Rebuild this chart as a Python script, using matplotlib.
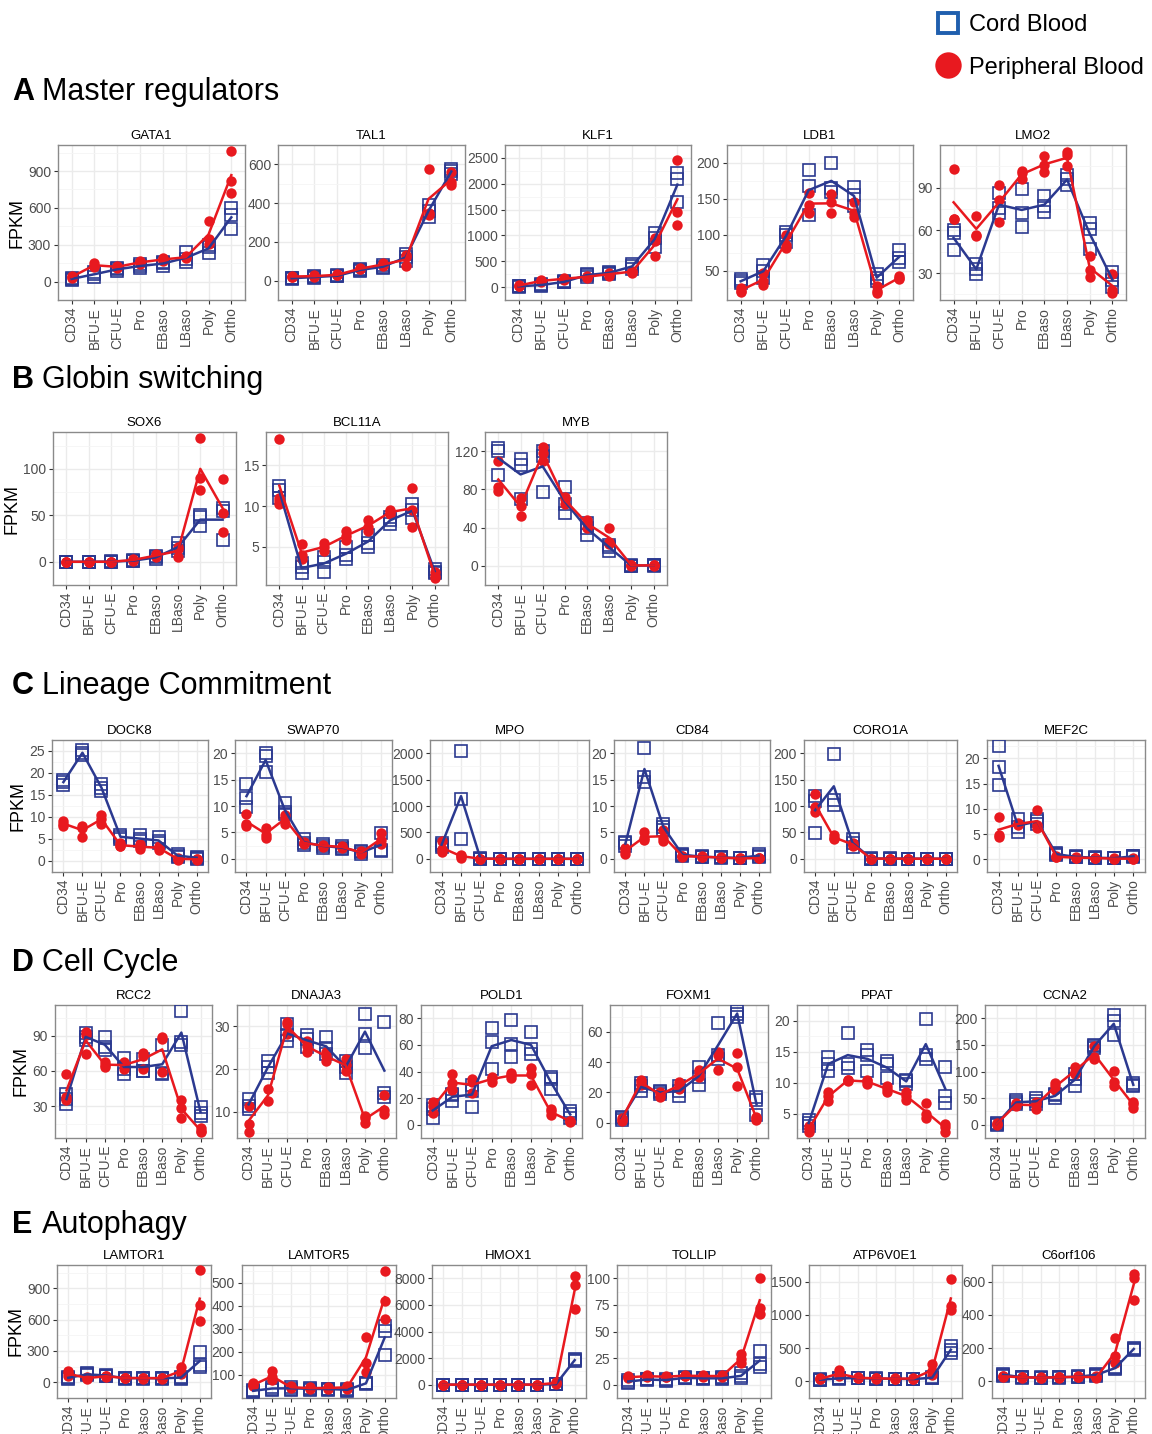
import numpy as np
import matplotlib.pyplot as plt
from matplotlib.lines import Line2D

plt.rcParams['font.family'] = ['Liberation Sans', 'DejaVu Sans']

STAGES = ["CD34", "BFU-E", "CFU-E", "Pro", "EBaso", "LBaso", "Poly", "Ortho"]

# --- A Master regulators ---
GATA1_CB = [[15, 20, 30], [40, 60, 80], [90, 100, 110], [110, 130, 140], [130, 150, 160], [160, 180, 240], [230, 280, 300], [430, 540, 600]]
GATA1_PB = [[30, 40, 45], [120, 130, 150], [110, 120, 130], [140, 160, 170], [170, 180, 190], [190, 200, 205], [310, 350, 490], [720, 820, 1060]]
TAL1_CB = [[10, 12, 15], [15, 18, 22], [22, 25, 28], [50, 55, 60], [65, 70, 80], [100, 120, 140], [330, 360, 390], [550, 565, 575]]
TAL1_PB = [[18, 20, 25], [20, 22, 28], [28, 30, 32], [58, 62, 65], [75, 85, 90], [75, 120, 130], [340, 350, 575], [495, 510, 560]]
KLF1_CB = [[10, 15, 20], [30, 40, 50], [90, 100, 110], [200, 230, 260], [250, 280, 300], [350, 400, 450], [780, 950, 1050], [1650, 2100, 2200]]
KLF1_PB = [[20, 30, 40], [100, 120, 140], [140, 160, 180], [180, 200, 220], [220, 250, 280], [280, 300, 320], [600, 900, 950], [1200, 1450, 2450]]
LDB1_CB = [[32, 35, 38], [40, 50, 57], [90, 100, 104], [128, 168, 190], [160, 165, 200], [140, 155, 167], [35, 40, 45], [62, 68, 78]]
LDB1_PB = [[20, 22, 25], [30, 35, 47], [82, 85, 100], [130, 142, 158], [130, 145, 156], [125, 130, 145], [18, 22, 28], [38, 40, 42]]
LMO2_CB = [[46, 58, 60], [29, 33, 36], [72, 76, 86], [62, 72, 89], [73, 77, 84], [92, 96, 99], [47, 61, 65], [20, 25, 31]]
LMO2_PB = [[68, 68, 103], [56, 57, 70], [66, 81, 92], [96, 100, 102], [101, 106, 112], [105, 113, 115], [27, 32, 42], [16, 18, 29]]

# --- B Globin switching ---
SOX6_CB = [[0, 0, 0], [0, 0, 0], [0, 0, 0.5], [0.5, 1, 2], [3, 5, 6], [12, 15, 20], [38, 48, 50], [23, 55, 58]]
SOX6_PB = [[0, 0, 0], [0, 0, 0], [0, 0, 0], [1, 2, 3], [5, 7, 8], [5, 14, 16], [77, 90, 133], [32, 52, 89]]
BCL11A_CB = [[11, 12, 12.5], [1.8, 2.5, 3], [1.9, 3.2, 3.8], [3.5, 4, 5], [5, 5.5, 6.5], [7.8, 8.3, 8.7], [8.5, 9.5, 10.3], [1.8, 2, 2.3]]
BCL11A_PB = [[10.2, 10.6, 11, 18.2], [3.5, 4, 5.4], [4.5, 5, 5.5], [5.8, 6.3, 7], [7, 7.5, 8.3], [9, 9.3, 9.5], [7.5, 9.5, 12.2], [1.2, 1.5, 2]]
MYB_CB = [[95, 120, 123], [70, 105, 112], [77, 115, 120], [55, 65, 82], [32, 40, 45], [16, 20, 22], [0, 0, 0.5], [0, 0.5, 1]]
MYB_PB = [[78, 83, 110], [52, 63, 71], [110, 118, 124], [65, 70, 72], [40, 45, 48], [23, 25, 40], [0, 0.5, 1], [0, 0.5, 1]]

# --- C Lineage commitment ---
DOCK8_CB = [[17.3, 18, 18.5], [24, 24.5, 25.3], [16, 16.5, 17.5], [5, 5.5, 6], [4.5, 5, 5.8], [4, 4.5, 5.5], [1, 1.2, 1.5], [0.5, 0.7, 1]]
DOCK8_PB = [[8, 8.5, 9], [5.5, 7.5, 8], [8.5, 9.5, 10.5], [3.3, 3.5, 4], [2.8, 3.2, 3.8], [2.5, 3, 3.5], [0.3, 0.5, 0.6], [0.3, 0.4, 0.5]]
SWAP70_CB = [[9.8, 11.6, 14.2], [16.5, 19.5, 20.1], [8.5, 8.8, 10.5], [2.6, 3, 3.8], [2, 2.5, 2.8], [1.8, 2, 2.5], [1, 1.2, 1.5], [1.4, 1.6, 4.8]]
SWAP70_PB = [[6.2, 6.5, 8.4], [4, 4.5, 5.8], [6.5, 7.8, 8.3], [2.8, 3, 3.2], [2.3, 2.5, 2.7], [2, 2.2, 2.5], [1, 1.2, 1.4], [2.8, 3.5, 4.8]]
MPO_CB = [[230, 270, 300], [380, 1130, 2050], [0, 5, 10], [0, 0, 0], [0, 0, 0], [0, 0, 0], [0, 0, 0], [0, 0, 0]]
MPO_PB = [[120, 180, 330], [20, 50, 80], [0, 2, 5], [0, 0, 0], [0, 0, 0], [0, 0, 0], [0, 0, 0], [0, 0, 0]]
CD84_CB = [[2.5, 3, 3.2], [14.5, 15.5, 21], [5.5, 6, 6.5], [0.5, 0.8, 1], [0.3, 0.4, 0.5], [0.2, 0.3, 0.3], [0.1, 0.2, 0.2], [0.3, 0.5, 1]]
CD84_PB = [[1, 1.5, 2], [3.5, 4, 5], [3.3, 4, 5.5], [0.3, 0.5, 0.6], [0.3, 0.4, 0.5], [0.2, 0.2, 0.3], [0, 0.1, 0.1], [0.1, 0.1, 0.2]]
CORO1A_CB = [[48, 110, 118], [102, 112, 198], [22, 30, 38], [0, 0.5, 1], [0, 0.5, 1], [0, 0.3, 0.5], [0, 0.2, 0.3], [0, 0.3, 0.5]]
CORO1A_PB = [[88, 98, 123], [37, 40, 45], [25, 27, 30], [0, 0.3, 0.5], [0, 0.3, 0.5], [0, 0.2, 0.3], [0, 0.1, 0.2], [0, 0.1, 0.2]]
MEF2C_CB = [[14.7, 18.3, 22.5], [5.5, 6.5, 8], [7, 7.5, 8], [0.8, 1, 1.3], [0.4, 0.5, 0.6], [0.3, 0.3, 0.4], [0.2, 0.2, 0.3], [0.5, 0.6, 0.7]]
MEF2C_PB = [[4.5, 4.8, 8.3], [6.8, 7, 7.2], [6.2, 6.8, 9.7], [0.4, 0.5, 0.6], [0.3, 0.3, 0.4], [0.2, 0.3, 0.3], [0.1, 0.1, 0.2], [0.1, 0.1, 0.2]]

# --- D Cell cycle ---
RCC2_CB = [[32, 36, 40], [86, 89, 92], [78, 80, 89], [57, 62, 71], [60, 60, 70], [57, 58, 82], [82, 85, 111], [22, 24, 29]]
RCC2_PB = [[35, 38, 57], [74, 91, 93], [63, 65, 68], [62, 65, 68], [62, 73, 75], [59, 87, 89], [20, 28, 35], [8, 9, 11]]
DNAJA3_CB = [[10.8, 11.5, 13], [19, 20.5, 22], [26.5, 28, 30.5], [25.3, 27, 28], [23.5, 25, 27.5], [19, 20.5, 22], [25, 28.3, 33], [13.5, 14.5, 31]]
DNAJA3_PB = [[5.3, 7.2, 11.3], [12.5, 15.3], [28.3, 30.5, 31], [24, 25.5, 26.5], [22, 23, 24], [19.5, 21, 22.3], [7.5, 8.5, 9], [9.5, 10.5, 14]]
POLD1_CB = [[5, 12, 15], [18, 22, 23], [13, 25, 30], [42, 62, 73], [51, 61, 79], [53, 57, 70], [27, 34, 36], [5, 8, 10]]
POLD1_PB = [[9, 14, 17], [26, 31, 38], [24, 32, 34], [32, 35, 36], [35, 37, 39], [30, 38, 43], [7, 10, 12], [2, 3, 3]]
FOXM1_CB = [[2, 3, 4], [21, 24, 26], [19, 20, 21], [18, 21, 24], [25, 30, 37], [42, 45, 66], [70, 72, 74], [5, 15, 17]]
FOXM1_PB = [[1, 2, 3], [25, 27, 28], [17, 19, 20], [22, 25, 27], [30, 32, 35], [35, 45, 47], [24, 37, 46], [2, 3, 4]]
PPAT_CB = [[3, 3.5, 4], [11.8, 13, 14.2], [12.3, 13, 18], [11.8, 14.5, 15.2], [10.8, 13, 13.5], [9.8, 10.3, 10.5], [13.8, 14.5, 20.3], [6.7, 7.8, 12.5]]
PPAT_PB = [[2, 2.5, 3], [7, 7.8, 8.5], [10.2, 10.4, 10.5], [9.8, 10.2, 10.5], [8.5, 9, 9.5], [7.2, 7.8, 8.5], [4.3, 5, 6.7], [2, 2.8, 3.3]]
CCNA2_CB = [[0, 2, 3], [38, 42, 46], [38, 44, 50], [50, 55, 58], [73, 85, 95], [145, 148, 150], [168, 195, 206], [72, 75, 78]]
CCNA2_PB = [[0, 2, 3], [35, 38, 40], [30, 38, 42], [65, 72, 78], [95, 100, 108], [123, 127, 148], [72, 80, 101], [32, 38, 42]]

# --- E Autophagy ---
LAMTOR1_CB = [[35, 45, 50], [70, 75, 85], [60, 65, 70], [35, 40, 45], [35, 40, 45], [35, 38, 42], [35, 45, 55], [150, 170, 290]]
LAMTOR1_PB = [[60, 85, 105], [30, 40, 50], [50, 60, 65], [38, 40, 45], [35, 40, 45], [35, 40, 45], [80, 100, 145], [590, 740, 1070]]
LAMTOR5_CB = [[25, 30, 35], [35, 40, 45], [35, 40, 48], [35, 38, 42], [35, 38, 40], [30, 35, 38], [60, 62, 65], [185, 290, 310]]
LAMTOR5_PB = [[50, 55, 62], [75, 90, 115], [42, 45, 50], [38, 42, 45], [40, 42, 45], [40, 45, 50], [110, 150, 265], [340, 420, 550]]
HMOX1_CB = [[0, 5, 10], [0, 5, 10], [0, 5, 10], [0, 5, 10], [0, 5, 10], [0, 5, 10], [20, 40, 60], [1750, 1850, 1950]]
HMOX1_PB = [[0, 5, 10], [0, 5, 10], [0, 5, 10], [0, 5, 10], [0, 5, 10], [0, 5, 10], [80, 120, 200], [5700, 7500, 8200]]
TOLLIP_CB = [[2, 3, 4], [4, 5, 5.5], [3.5, 4.5, 5], [6, 6.5, 7], [5.5, 6, 6.5], [5, 6, 7], [6, 8, 11], [17, 19, 32]]
TOLLIP_PB = [[6, 7, 8], [7, 8, 9], [7, 7.5, 8], [8, 8.5, 9], [7.5, 8, 9], [7.5, 8, 9], [20, 24, 29], [66, 72, 100]]
ATP6V0E1_CB = [[20, 25, 30], [35, 45, 55], [45, 50, 55], [40, 42, 45], [35, 40, 42], [30, 35, 38], [50, 55, 60], [430, 470, 530]]
ATP6V0E1_PB = [[30, 40, 45], [80, 100, 170], [50, 55, 60], [40, 45, 50], [35, 40, 45], [35, 40, 55], [100, 150, 260], [1070, 1130, 1540]]
C6ORF106_CB = [[35, 40, 45], [22, 25, 28], [20, 23, 25], [22, 25, 28], [25, 28, 30], [35, 40, 45], [75, 80, 85], [190, 195, 200]]
C6ORF106_PB = [[28, 30, 33], [22, 25, 27], [20, 22, 25], [22, 25, 28], [25, 28, 30], [20, 25, 30], [110, 150, 260], [490, 620, 645]]

W, H = 1152, 1434
CB_COL = "#2b3990"
PB_COL = "#e8191f"

# (gene, cord, peripheral, y ticks, box left px, box right px); row: letter, title, title y, box top, box bottom
ROWS = [
    ("A", "Master regulators", 92, 145, 300, [
        ("GATA1", GATA1_CB, GATA1_PB, [0, 300, 600, 900], 58, 245),
        ("TAL1", TAL1_CB, TAL1_PB, [0, 200, 400, 600], 278, 465),
        ("KLF1", KLF1_CB, KLF1_PB, [0, 500, 1000, 1500, 2000, 2500], 505, 691),
        ("LDB1", LDB1_CB, LDB1_PB, [50, 100, 150, 200], 727, 913),
        ("LMO2", LMO2_CB, LMO2_PB, [30, 60, 90], 940, 1126),
    ]),
    ("B", "Globin switching", 380, 432, 585, [
        ("SOX6", SOX6_CB, SOX6_PB, [0, 50, 100], 53, 236),
        ("BCL11A", BCL11A_CB, BCL11A_PB, [5, 10, 15], 266, 448),
        ("MYB", MYB_CB, MYB_PB, [0, 40, 80, 120], 485, 667),
    ]),
    ("C", "Lineage Commitment", 686, 740, 872, [
        ("DOCK8", DOCK8_CB, DOCK8_PB, [0, 5, 10, 15, 20, 25], 52, 208),
        ("SWAP70", SWAP70_CB, SWAP70_PB, [0, 5, 10, 15, 20], 235, 392),
        ("MPO", MPO_CB, MPO_PB, [0, 500, 1000, 1500, 2000], 430, 589),
        ("CD84", CD84_CB, CD84_PB, [0, 5, 10, 15, 20], 614, 770),
        ("CORO1A", CORO1A_CB, CORO1A_PB, [0, 50, 100, 150, 200], 804, 957),
        ("MEF2C", MEF2C_CB, MEF2C_PB, [0, 5, 10, 15, 20], 987, 1145),
    ]),
    ("D", "Cell Cycle", 963, 1005, 1138, [
        ("RCC2", RCC2_CB, RCC2_PB, [30, 60, 90], 55, 212),
        ("DNAJA3", DNAJA3_CB, DNAJA3_PB, [10, 20, 30], 237, 396),
        ("POLD1", POLD1_CB, POLD1_PB, [0, 20, 40, 60, 80], 421, 582),
        ("FOXM1", FOXM1_CB, FOXM1_PB, [0, 20, 40, 60], 610, 768),
        ("PPAT", PPAT_CB, PPAT_PB, [5, 10, 15, 20], 797, 957),
        ("CCNA2", CCNA2_CB, CCNA2_PB, [0, 50, 100, 150, 200], 985, 1145),
    ]),
    ("E", "Autophagy", 1225, 1265, 1398, [
        ("LAMTOR1", LAMTOR1_CB, LAMTOR1_PB, [0, 300, 600, 900], 57, 211),
        ("LAMTOR5", LAMTOR5_CB, LAMTOR5_PB, [100, 200, 300, 400, 500], 242, 396),
        ("HMOX1", HMOX1_CB, HMOX1_PB, [0, 2000, 4000, 6000, 8000], 432, 586),
        ("TOLLIP", TOLLIP_CB, TOLLIP_PB, [0, 25, 50, 75, 100], 617, 771),
        ("ATP6V0E1", ATP6V0E1_CB, ATP6V0E1_PB, [0, 500, 1000, 1500], 809, 962),
        ("C6orf106", C6ORF106_CB, C6ORF106_PB, [0, 200, 400, 600], 992, 1145),
    ]),
]


def draw_panel(fig, gene, cb, pb, ticks, x0, x1, y0, y1, ylabel):
    ax = fig.add_axes([x0 / W, 1 - y1 / H, (x1 - x0) / W, (y1 - y0) / H])
    x = np.arange(len(STAGES))
    allv = [v for s in cb + pb for v in s]
    lo, hi = min(allv), max(allv)
    pad = 0.05 * (hi - lo)
    ax.set_ylim(lo - pad, hi + pad)
    ax.set_xlim(-0.6, len(STAGES) - 0.4)

    step = ticks[1] - ticks[0]
    minor = [t - step / 2 for t in ticks] + [ticks[-1] + step / 2]
    ax.set_yticks(ticks)
    ax.set_yticks(minor, minor=True)
    ax.set_xticks(x)
    ax.set_xticklabels(STAGES, rotation=90)
    ax.grid(which="major", color="#ebebeb", lw=1.0)
    ax.grid(which="minor", axis="y", color="#f5f5f5", lw=0.6)
    ax.set_axisbelow(True)
    ax.tick_params(which="minor", length=0)
    ax.tick_params(which="major", length=3, color="#333333", width=0.8,
                   labelsize=10, labelcolor="#4d4d4d", pad=2)
    for sp in ax.spines.values():
        sp.set_color("#8a8a8a")
        sp.set_linewidth(1.0)

    for i, vals in enumerate(cb):
        ax.plot([i] * len(vals), vals, ls="none", marker="s", ms=8.5, mfc="none",
                mec=CB_COL, mew=1.2, zorder=3)
    for i, vals in enumerate(pb):
        ax.plot([i] * len(vals), vals, ls="none", marker="o", ms=7.5, mfc=PB_COL,
                mec="none", zorder=3)
    ax.plot(x, [np.mean(v) for v in cb], color=CB_COL, lw=1.8, zorder=4)
    ax.plot(x, [np.mean(v) for v in pb], color=PB_COL, lw=1.8, zorder=4)

    ax.set_title(gene, fontsize=9.5, pad=4)
    if ylabel:
        ax.set_ylabel("FPKM", fontsize=13, labelpad=2)
    return ax


fig = plt.figure(figsize=(W / 100, H / 100), dpi=100)

for letter, title, ty, y0, y1, panels in ROWS:
    fig.text(12 / W, 1 - ty / H, letter, fontsize=22, fontweight="bold", va="center")
    fig.text(42 / W, 1 - ty / H, title, fontsize=22, va="center")
    for j, (gene, cb, pb, ticks, x0, x1) in enumerate(panels):
        draw_panel(fig, gene, cb, pb, ticks, x0, x1, y0, y1, j == 0)

handles = [
    Line2D([], [], ls="none", marker="s", ms=15, mfc="white", mec="#1f5fae", mew=2.8),
    Line2D([], [], ls="none", marker="o", ms=19, mfc=PB_COL, mec="none"),
]
fig.legend(handles, ["Cord Blood", "Peripheral Blood"], loc="upper left",
           bbox_to_anchor=(922 / W, 1 - 5 / H), frameon=False, fontsize=17,
           handletextpad=0.2, labelspacing=0.85, handlelength=1.4, borderaxespad=0)

fig.savefig("out.png", dpi=100)
